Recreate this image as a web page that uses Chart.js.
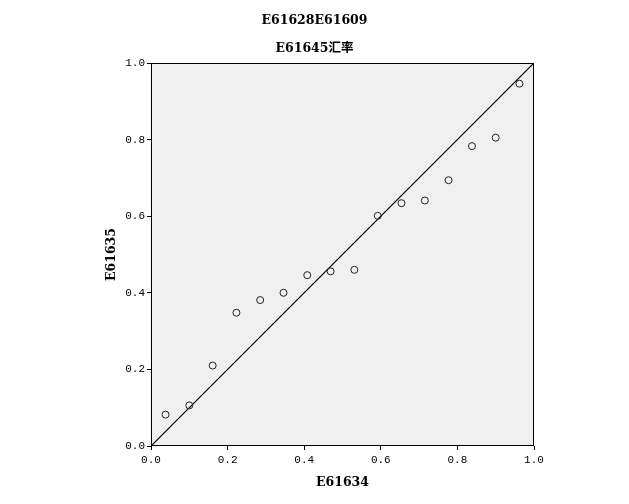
<!DOCTYPE html>
<html>
<head>
<meta charset="utf-8">
<script src="https://cdn.jsdelivr.net/npm/chart.js@4"></script>
<style>
html,body{margin:0;padding:0;background:#fff;}
#wrap{width:629px;height:504px;position:relative;}
</style>
</head>
<body>
<div id="wrap"><canvas id="c" width="629" height="504"></canvas></div>
<script>
const titleLines = ["E61628E61609", "E61645汇率"];
const xAxisTitle = "E61634";
const yAxisTitle = "E61635";
const tickValues = [0.0, 0.2, 0.4, 0.6, 0.8, 1.0];
const observedX = [0.038, 0.100, 0.161, 0.223, 0.285, 0.346, 0.408, 0.469, 0.531, 0.592, 0.654, 0.715, 0.777, 0.838, 0.900, 0.962];
const observedY = [0.082, 0.106, 0.210, 0.348, 0.381, 0.400, 0.446, 0.456, 0.460, 0.601, 0.634, 0.641, 0.694, 0.783, 0.805, 0.946];
const refLineX = [0, 1];
const refLineY = [0, 1];

const serifFont = "'DejaVu Serif', 'Noto Sans CJK SC', serif";
const monoFont = "'Liberation Mono', 'DejaVu Sans Mono', monospace";

const plotFrame = {
  id: 'plotFrame',
  beforeDraw(chart) {
    const {ctx, chartArea: a} = chart;
    ctx.save();
    ctx.fillStyle = '#f0f0f0';
    ctx.fillRect(a.left, a.top, a.right - a.left, a.bottom - a.top);
    ctx.restore();
  },
  afterDraw(chart) {
    const {ctx, chartArea: a} = chart;
    ctx.save();
    ctx.strokeStyle = '#000';
    ctx.lineWidth = 1;
    ctx.strokeRect(Math.round(a.left) + 0.5, Math.round(a.top) + 0.5, Math.round(a.right - a.left) - 1, Math.round(a.bottom - a.top) - 1);
    ctx.restore();
  }
};

new Chart(document.getElementById('c'), {
  type: 'scatter',
  data: {
    datasets: [
      {
        label: 'observed',
        data: observedX.map((x, i) => ({x: x, y: observedY[i]})),
        pointStyle: 'circle',
        pointRadius: 3.5,
        pointBorderWidth: 1,
        pointBorderColor: '#222',
        pointBackgroundColor: 'rgba(0,0,0,0)',
        showLine: false
      },
      {
        label: 'reference',
        data: refLineX.map((x, i) => ({x: x, y: refLineY[i]})),
        showLine: true,
        borderColor: '#000',
        borderWidth: 1.2,
        pointRadius: 0,
        fill: false
      }
    ]
  },
  plugins: [plotFrame],
  options: {
    responsive: false,
    animation: false,
    layout: {padding: {left: 0, right: 0, top: 0, bottom: 0}},
    plugins: {
      legend: {display: false},
      tooltip: {enabled: false},
      title: {
        display: true,
        text: titleLines,
        color: '#000',
        font: {family: serifFont, size: 12.5, weight: 'bold', lineHeight: 2.24},
        padding: {top: 7, bottom: 0}
      }
    },
    scales: {
      x: {
        type: 'linear',
        min: 0, max: 1,
        afterBuildTicks(scale) { scale.ticks = tickValues.map(v => ({value: v})); },
        afterFit(scale) { scale.height = 58; },
        grid: {drawOnChartArea: false, drawTicks: true, tickLength: 4, tickColor: '#000'},
        border: {display: false},
        ticks: {
          color: '#000',
          padding: 3,
          font: {family: monoFont, size: 11},
          callback: v => Number(v).toFixed(1)
        },
        title: {
          display: true,
          text: xAxisTitle,
          color: '#000',
          font: {family: serifFont, size: 12.5, weight: 'bold', lineHeight: 1.2},
          padding: {top: 0, bottom: 14}
        }
      },
      y: {
        type: 'linear',
        position: 'left',
        min: 0, max: 1,
        afterBuildTicks(scale) { scale.ticks = tickValues.map(v => ({value: v})); },
        afterFit(scale) { scale.width = 151; },
        grid: {drawOnChartArea: false, drawTicks: true, tickLength: 4, tickColor: '#000'},
        border: {display: false},
        ticks: {
          color: '#000',
          padding: 2,
          font: {family: monoFont, size: 11},
          callback: v => Number(v).toFixed(1)
        },
        title: {
          display: true,
          text: yAxisTitle,
          color: '#000',
          font: {family: serifFont, size: 12.5, weight: 'bold', lineHeight: 1.2},
          padding: {top: 104, bottom: 0}
        }
      },
      yRight: {
        type: 'linear',
        position: 'right',
        min: 0, max: 1,
        afterFit(scale) { scale.width = 95; },
        grid: {display: false, drawTicks: false},
        border: {display: false},
        ticks: {display: false}
      }
    }
  }
});
</script>
</body>
</html>
